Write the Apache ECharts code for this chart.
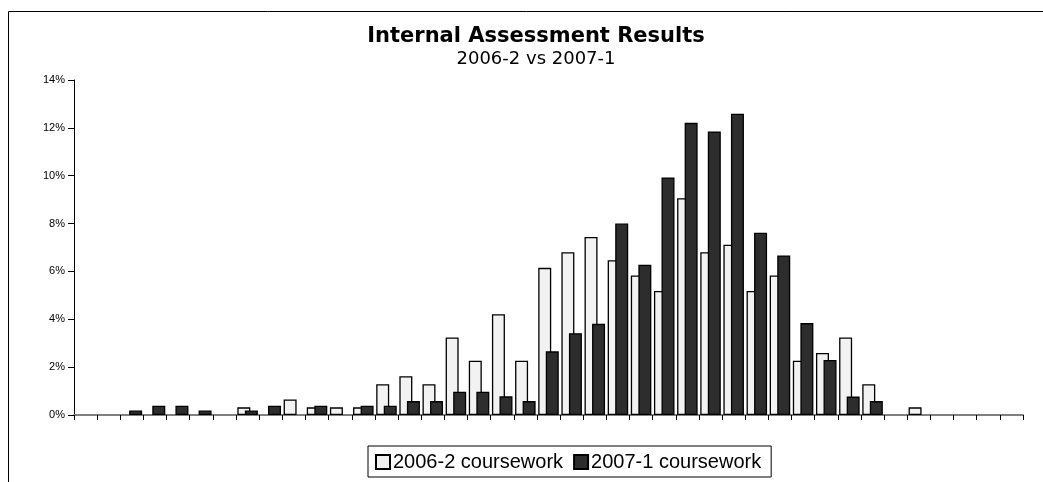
<!DOCTYPE html>
<html>
<head>
<meta charset="utf-8">
<script src="https://cdn.jsdelivr.net/npm/echarts@6/dist/echarts.min.js"></script>
<style>
    html, body { margin: 0; padding: 0; background: #fff; }
    #chart { width: 1043px; height: 482px; }
</style>
</head>
<body>
<div id="chart"></div>
<script>
    // 41 score bands, values in % of students
    var bands = [];
    for (var i = 0; i < 41; i++) bands.push(String(i));

    var cw2006 = [null, null, null, null, null, null, null, 0.32, null, 0.65,
        0.32, 0.32, 0.32, 1.29, 1.62, 1.29, 3.24, 2.27, 4.21, 2.27,
        6.15, 6.80, 7.44, 6.47, 5.83, 5.18, 9.06, 6.80, 7.12, 5.18,
        5.83, 2.27, 2.59, 3.24, 1.29, null, 0.32, null, null, null, null];

    var cw2007 = [null, null, 0.19, 0.39, 0.39, 0.19, null, 0.19, 0.39, null,
        0.39, null, 0.39, 0.39, 0.58, 0.58, 0.97, 0.97, 0.78, 0.58,
        2.66, 3.42, 3.81, 8.00, 6.28, 9.93, 12.21, 11.85, 12.59, 7.62,
        6.67, 3.84, 2.30, 0.77, 0.58, null, null, null, null, null, null];

    var chart = echarts.init(document.getElementById('chart'));
    var font = 'Arial, "Liberation Sans", sans-serif';
    var wide = '"DejaVu Sans", Arial, sans-serif';

    var option = {
        animation: false,
        textStyle: { fontFamily: font },
        graphic: [{
            type: 'rect',
            shape: { x: 8.5, y: 11.5, width: 1100, height: 600 },
            style: { fill: null, stroke: '#000', lineWidth: 1 },
            silent: true
        }],
        title: {
            text: 'Internal Assessment Results',
            subtext: '2006-2 vs 2007-1',
            left: 531,
            textAlign: 'center',
            top: 21,
            itemGap: 3,
            textStyle: { fontSize: 21, fontWeight: 'bold', color: '#000', fontFamily: wide },
            subtextStyle: { fontSize: 18, color: '#000', fontFamily: wide }
        },
        legend: {
            left: 368,
            bottom: 5,
            borderColor: '#000',
            borderWidth: 1,
            padding: [6, 10, 5, 7],
            itemWidth: 14,
            itemHeight: 14,
            itemGap: 10,
            icon: 'rect',
            textStyle: { fontSize: 20, color: '#000', fontFamily: font, padding: [0, 0, 0, -2] },
            data: ['2006-2 coursework', '2007-1 coursework']
        },
        grid: { left: 74, right: 20, top: 80, bottom: 67 },
        xAxis: {
            type: 'category',
            data: bands,
            axisLine: { lineStyle: { color: '#808080', width: 2 } },
            axisTick: { show: true, length: 5, lineStyle: { color: '#000' } },
            axisLabel: { show: false },
            splitLine: { show: false }
        },
        yAxis: {
            type: 'value',
            min: 0,
            max: 14,
            interval: 2,
            axisLine: { show: true, lineStyle: { color: '#000', width: 1 } },
            axisTick: { show: true, length: 6, lineStyle: { color: '#000' } },
            axisLabel: { formatter: '{value}%', fontSize: 11, color: '#000', margin: 9, fontFamily: font },
            splitLine: { show: false }
        },
        series: [{
            name: '2006-2 coursework',
            type: 'bar',
            data: cw2006,
            barWidth: 13,
            barGap: '-42%',
            itemStyle: { color: '#f2f2f2', borderColor: '#000', borderWidth: 1.3 }
        }, {
            name: '2007-1 coursework',
            type: 'bar',
            data: cw2007,
            barWidth: 13,
            barGap: '-42%',
            itemStyle: { color: '#2d2d2d', borderColor: '#000', borderWidth: 1.3 }
        }]
    };

    chart.setOption(option);
</script>
</body>
</html>
